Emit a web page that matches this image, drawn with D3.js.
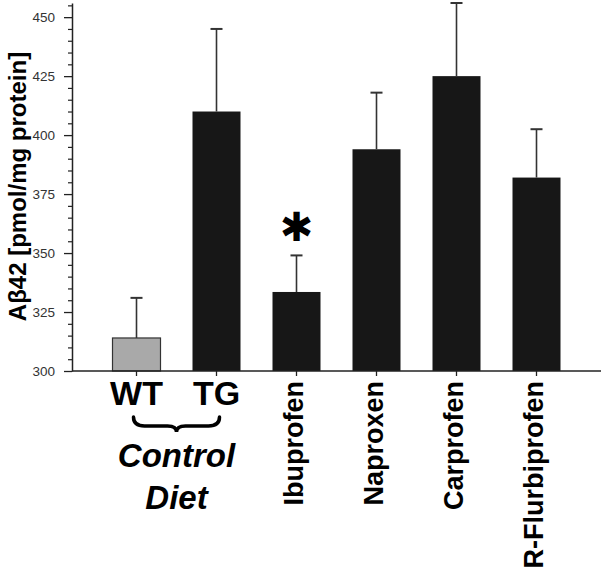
<!DOCTYPE html>
<html>
<head>
<meta charset="utf-8">
<script src="https://cdn.jsdelivr.net/npm/d3@7"></script>
<style>
  html, body { margin: 0; padding: 0; background: #fff; }
  svg { display: block; }
</style>
</head>
<body>
<svg id="chart" width="601" height="580"></svg>
<script>
// ---- data ----
const categories = ["WT", "TG", "Ibuprofen", "Naproxen", "Carprofen", "R-Flurbiprofen"];
const values = [314, 410, 333.5, 394, 425, 382];
const errors = [17, 35, 15.5, 24, 31, 20.5];
const yTicks = [300, 325, 350, 375, 400, 425, 450];
const groupLabel = ["Control", "Diet"];
const significant = ["Ibuprofen"];

const svg = d3.select("#chart");
const W = 601, H = 580;

const x = d3.scaleBand()
  .domain(categories)
  .range([96.5, 576.5])
  .paddingInner(0.4)
  .paddingOuter(0.2);

const y = d3.scaleLinear().domain([300, 456]).range([371, 3]);

const axisColor = "#222";
const font = "'Liberation Sans', Arial, Helvetica, sans-serif";

// bars
svg.append("g").selectAll("rect")
  .data(categories)
  .join("rect")
  .attr("x", d => x(d))
  .attr("y", (d, i) => y(values[i]))
  .attr("width", x.bandwidth())
  .attr("height", (d, i) => y(300) - y(values[i]))
  .attr("fill", (d, i) => i === 0 ? "#a9a9a9" : "#171717")
  .attr("stroke", (d, i) => i === 0 ? "#333" : "none")
  .attr("stroke-width", 1.2);

// error bars
const eb = svg.append("g").attr("stroke", "#333").attr("stroke-width", 1.6);
categories.forEach((c, i) => {
  const cx = x(c) + x.bandwidth() / 2;
  eb.append("line").attr("x1", cx).attr("x2", cx)
    .attr("y1", y(values[i])).attr("y2", y(values[i] + errors[i]));
  eb.append("line").attr("x1", cx - 6).attr("x2", cx + 6)
    .attr("y1", y(values[i] + errors[i])).attr("y2", y(values[i] + errors[i]))
    .attr("stroke-width", 2);
});

// y axis minor ticks
const minor = d3.range(300, 456, 5).filter(v => v % 25 !== 0);
const yMinor = svg.append("g").attr("transform", "translate(72,0)")
  .call(d3.axisLeft(y).tickValues(minor).tickSize(4).tickFormat(""));
yMinor.select(".domain").remove();
yMinor.selectAll("line").attr("stroke", axisColor).attr("stroke-width", 1.2);

// y axis major
const yAxis = svg.append("g").attr("transform", "translate(72,0)")
  .call(d3.axisLeft(y).tickValues(yTicks).tickSize(8).tickSizeOuter(0).tickPadding(9));
yAxis.select(".domain").attr("stroke", axisColor).attr("stroke-width", 1.5);
yAxis.selectAll(".tick line").attr("stroke", axisColor).attr("stroke-width", 1.3);
yAxis.selectAll(".tick text")
  .attr("font-family", font).attr("font-size", 13.5).attr("fill", "#333");

// x axis
const xAxis = svg.append("g").attr("transform", "translate(0,371)")
  .call(d3.axisBottom(x).tickSize(5).tickSizeOuter(0).tickFormat(""));
xAxis.select(".domain").remove();
xAxis.selectAll(".tick line").attr("stroke", axisColor).attr("stroke-width", 1.3);
svg.append("line").attr("x1", 72).attr("x2", 601).attr("y1", 371).attr("y2", 371)
  .attr("stroke", axisColor).attr("stroke-width", 1.5);

// x labels: WT, TG horizontal
const cx = c => x(c) + x.bandwidth() / 2;
categories.slice(0, 2).forEach(c => {
  svg.append("text").attr("x", cx(c)).attr("y", 405)
    .attr("text-anchor", "middle").attr("font-family", font)
    .attr("font-weight", "bold").attr("font-size", 34).attr("fill", "#000")
    .text(c);
});
// rotated drug labels
categories.slice(2).forEach(c => {
  svg.append("text")
    .attr("transform", `translate(${cx(c) + 6.5},381) rotate(-90)`)
    .attr("text-anchor", "end").attr("font-family", font)
    .attr("font-weight", "bold").attr("font-size", 27).attr("fill", "#000")
    .text(c);
});

// brace
const x0 = cx("WT") - 3, x1 = cx("TG") + 3, xm = (x0 + x1) / 2;
const b0 = 417, b1 = 426, b2 = 432;
svg.append("path")
  .attr("d", `M${x0},${b0} Q${x0},${b1} ${x0 + 11},${b1} L${xm - 9},${b1} Q${xm},${b1} ${xm},${b2} Q${xm},${b1} ${xm + 9},${b1} L${x1 - 11},${b1} Q${x1},${b1} ${x1},${b0}`)
  .attr("fill", "none").attr("stroke", "#000").attr("stroke-width", 3.5)
  .attr("stroke-linecap", "round");

// group label
groupLabel.forEach((t, i) => {
  svg.append("text").attr("x", xm).attr("y", 467 + i * 42)
    .attr("text-anchor", "middle").attr("font-family", font)
    .attr("font-weight", "bold").attr("font-style", "italic")
    .attr("font-size", 33).attr("fill", "#000").text(t);
});

// significance asterisk
significant.forEach(c => {
  const i = categories.indexOf(c);
  svg.append("text").attr("x", cx(c)).attr("y", y(values[i] + errors[i]) - 28)
    .attr("text-anchor", "middle").attr("dominant-baseline", "central")
    .attr("font-family", "'DejaVu Sans', sans-serif")
    .attr("font-size", 40).attr("fill", "#000").text("✱");
});

// y label
svg.append("text")
  .attr("transform", "translate(26,186.5) rotate(-90)")
  .attr("text-anchor", "middle").attr("font-family", font)
  .attr("font-weight", "bold").attr("font-size", 24).attr("fill", "#000")
  .text("Aβ42 [pmol/mg protein]");
</script>
</body>
</html>
